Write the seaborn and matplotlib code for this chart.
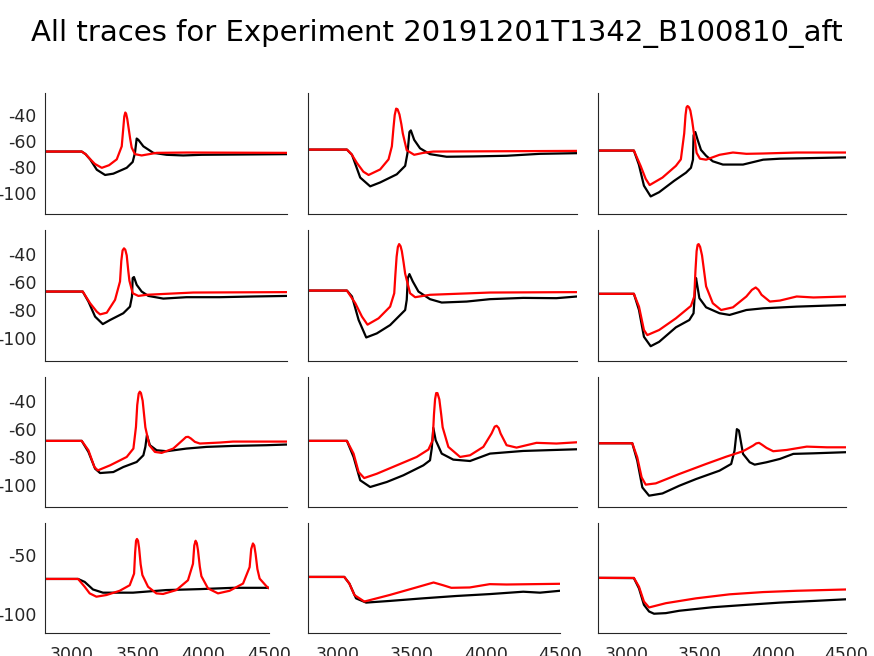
import matplotlib
matplotlib.use("Agg")
import matplotlib.pyplot as plt
import seaborn as sns
import pandas as pd

p1_black = [(2800, -68), (3058, -68), (3085, -70), (3117, -74), (3164, -82), (3222, -86), (3280, -85),
            (3374, -80.5), (3416, -76), (3432, -69), (3444, -58), (3456, -59), (3491, -64),
            (3561, -69), (3654, -70.5), (3771, -71), (3900, -70.5), (4500, -70)]
p1_red = [(2800, -68), (3058, -68), (3085, -70), (3110, -73), (3150, -77.5), (3199, -80.5),
          (3250, -78.5), (3304, -74), (3339, -64), (3350, -50), (3357, -41), (3364, -38),
          (3370, -39), (3378, -43), (3386, -49), (3398, -58), (3409, -65), (3432, -70),
          (3479, -71), (3584, -69), (3800, -68.75), (4500, -69)]

p2_black = [(2800, -66.5), (3046, -66.5), (3078, -70.5), (3130, -88), (3193, -94.75),
            (3256, -91.75), (3361, -85.5), (3414, -79), (3429, -69), (3441, -53), (3450, -51.75),
            (3471, -59), (3508, -65.5), (3571, -70), (3676, -72), (3845, -71.75), (4055, -71.25),
            (4265, -69.75), (4500, -69.25)]
p2_red = [(2800, -66.5), (3046, -66.5), (3075, -70), (3109, -76.75), (3150, -83.5), (3183, -86),
          (3256, -81.75), (3309, -74), (3330, -64), (3340, -50), (3348, -40), (3357, -35),
          (3366, -35.5), (3378, -39.5), (3390, -47), (3399, -54), (3424, -67), (3471, -70.5),
          (3529, -69), (3592, -68), (4500, -67.5)]

p3_black = [(2800, -67.25), (3046, -67.25), (3080, -78), (3115, -94.25), (3161, -102.5),
            (3219, -99.25), (3322, -90.5), (3403, -84.25), (3437, -80.5), (3451, -74.25),
            (3455, -55.5), (3467, -53), (3483, -59), (3506, -66.75), (3541, -71.25),
            (3587, -75.5), (3656, -78), (3794, -78), (3932, -74.25), (4047, -73.5),
            (4277, -73), (4500, -72.5)]
p3_red = [(2800, -67.25), (3046, -67.25), (3092, -79), (3127, -89), (3154, -93.75), (3242, -88),
          (3334, -79), (3368, -74), (3391, -54), (3400, -40), (3407, -34), (3414, -33),
          (3424, -34), (3433, -36.5), (3445, -44), (3455, -52), (3476, -69), (3499, -73.5),
          (3541, -74.25), (3633, -70.5), (3725, -68.75), (3817, -69.75), (3932, -69.5),
          (4162, -68.75), (4500, -68.75)]

p4_black = [(2800, -66.7), (3065, -66.7), (3105, -73.8), (3152, -84.5), (3206, -89.8),
            (3257, -86.9), (3350, -82.1), (3397, -77.4), (3411, -70.2), (3416, -57.1),
            (3425, -56.4), (3444, -61.9), (3479, -66.7), (3526, -69.8), (3631, -71.7),
            (3794, -70.7), (4028, -70.7), (4262, -70.2), (4500, -69.8)]
p4_red = [(2800, -66.7), (3065, -66.7), (3117, -75), (3164, -81), (3187, -82.9), (3234, -81.7),
          (3292, -72.6), (3327, -59.5), (3336, -45), (3345, -37.5), (3355, -36), (3364, -37),
          (3374, -41), (3385, -52), (3393, -59), (3416, -67.9), (3456, -69.8), (3514, -69),
          (3654, -68.3), (3841, -67.4), (4500, -67.1)]

p5_black = [(2800, -66), (3046, -66), (3078, -70.2), (3120, -86.9), (3168, -99.3), (3235, -96.4),
            (3319, -90.5), (3414, -79.8), (3424, -72.6), (3431, -57.1), (3441, -54.3),
            (3462, -59.5), (3498, -66.7), (3571, -72.1), (3645, -74.5), (3803, -73.8),
            (3950, -72.1), (4160, -71.2), (4370, -71.4), (4500, -70.2)]
p5_red = [(2800, -66), (3046, -66), (3099, -75), (3141, -84.5), (3176, -90.2), (3246, -85.7),
          (3319, -77.4), (3345, -67.9), (3352, -55), (3360, -42), (3368, -35), (3376, -33),
          (3385, -34.5), (3393, -38), (3404, -46), (3414, -54), (3445, -67.9), (3477, -70.7),
          (3571, -69), (3950, -67.4), (4500, -67.1)]

p6_black = [(2800, -68.3), (3046, -68.3), (3081, -79.8), (3115, -98.8), (3161, -105.5),
            (3219, -102.4), (3334, -92.1), (3426, -86.9), (3455, -82.1), (3467, -63.1),
            (3472, -57.1), (3495, -71.4), (3541, -77.9), (3633, -82.1), (3702, -83.3),
            (3817, -79.8), (3932, -78.6), (4162, -77.4), (4500, -76.2)]
p6_red = [(2800, -68.3), (3046, -68.3), (3081, -77.4), (3115, -94), (3138, -97.6), (3219, -94),
          (3334, -85.7), (3437, -76.9), (3460, -70.2), (3468, -52), (3476, -38), (3483, -33.5),
          (3490, -33), (3500, -35), (3513, -41), (3527, -52), (3541, -63), (3587, -75),
          (3644, -79.8), (3725, -77.9), (3817, -70.2), (3855, -65.5), (3881, -63.8),
          (3900, -65.5), (3921, -69), (3978, -73.8), (4047, -73.1), (4162, -70.2),
          (4277, -70.9), (4500, -70.2)]

p7_black = [(2800, -68.7), (3058, -68.7), (3105, -76.6), (3152, -88.6), (3187, -91.7),
            (3280, -91), (3350, -87.4), (3444, -83.8), (3491, -79), (3505, -73), (3516, -64.6),
            (3537, -71.8), (3584, -75.4), (3654, -76.1), (3794, -74.2), (3935, -73),
            (4121, -72.3), (4355, -71.8), (4500, -71.3)]
p7_red = [(2800, -68.7), (3058, -68.7), (3105, -75.4), (3147, -87.4), (3171, -89.8),
          (3257, -86.2), (3374, -80.2), (3421, -74.2), (3439, -58.7), (3448, -43), (3458, -35),
          (3466, -33.5), (3474, -34.5), (3486, -40), (3496, -50), (3505, -59), (3533, -71.8),
          (3572, -76.6), (3619, -77.3), (3701, -74.2), (3771, -67.8), (3790, -66), (3806, -65.8),
          (3825, -67), (3853, -69.4), (3888, -70.6), (4028, -69.9), (4121, -69.2), (4500, -69.2)]

p8_black = [(2800, -68.7), (3046, -68.7), (3088, -80.2), (3130, -96.9), (3193, -101.7),
            (3298, -98.1), (3403, -93.3), (3529, -86.2), (3571, -82.6), (3582, -74.2),
            (3592, -59.4), (3607, -68.2), (3645, -77.8), (3718, -82.1), (3824, -83.1),
            (3950, -77.8), (4160, -75.9), (4500, -74.7)]
p8_red = [(2800, -68.7), (3046, -68.7), (3088, -77.8), (3120, -91), (3155, -95.3), (3235, -92.2),
          (3361, -86.2), (3487, -80.2), (3561, -74.9), (3588, -68.2), (3596, -50), (3603, -39),
          (3610, -34.5), (3618, -34.5), (3630, -39), (3642, -50), (3651, -59), (3687, -73),
          (3761, -80.2), (3824, -79), (3908, -73), (3960, -63.4), (3980, -58.5), (3992, -57.9),
          (4005, -59.5), (4017, -63.4), (4055, -71.8), (4118, -73.5), (4244, -70.1),
          (4370, -70.6), (4500, -69.7)]

p9_black = [(2800, -70.4), (3035, -70.4), (3069, -82.8), (3104, -102), (3150, -107.9),
            (3242, -106.3), (3357, -100.8), (3472, -96), (3633, -90), (3713, -85.2),
            (3736, -75.6), (3752, -60.3), (3766, -61.3), (3794, -78), (3840, -84),
            (3874, -85.7), (3955, -84), (4047, -81.6), (4139, -78), (4277, -77.6), (4500, -76.8)]
p9_red = [(2800, -70.4), (3035, -70.4), (3069, -80.4), (3099, -94.8), (3127, -100),
          (3196, -99.1), (3357, -92.4), (3541, -85.2), (3679, -80), (3794, -76.1),
          (3863, -72.1), (3885, -70.5), (3904, -70.1), (3925, -71.5), (3955, -73.7),
          (4001, -76.1), (4093, -75.2), (4231, -72.8), (4369, -73.3), (4500, -73.3)]

p10_black = [(2800, -70.3), (3051, -70.3), (3101, -72.8), (3164, -79.2), (3240, -81.9),
             (3468, -81.9), (3721, -79.7), (3974, -78.9), (4227, -77.8), (4500, -77.8)]
p10_red = [(2800, -70.3), (3051, -70.3), (3101, -76.9), (3139, -82.5), (3190, -85.3),
           (3266, -83.9), (3367, -80.3), (3443, -75.6), (3476, -65.8), (3484, -48), (3491, -38),
           (3498, -36.5), (3506, -38), (3514, -44), (3526, -58), (3539, -67), (3582, -76.9),
           (3645, -82.5), (3696, -83), (3797, -79.7), (3885, -71.4), (3923, -57.5),
           (3933, -42), (3943, -38), (3952, -40), (3961, -46), (3975, -60), (3987, -68),
           (4037, -78.3), (4113, -82.5), (4201, -80.3), (4303, -74.2), (4353, -60.3),
           (4365, -45), (4378, -40.3), (4388, -42), (4398, -49), (4412, -62), (4429, -70),
           (4480, -76.4), (4500, -78.3)]

p11_black = [(2800, -68.6), (3045, -68.6), (3079, -74.2), (3124, -86.7), (3192, -90.3),
             (3350, -88.9), (3575, -86.7), (3801, -84.7), (4026, -83.1), (4252, -81.1),
             (4365, -81.9), (4500, -80.3)]
p11_red = [(2800, -68.6), (3045, -68.6), (3079, -74.2), (3113, -83.9), (3180, -89.4),
           (3350, -83.9), (3530, -77.5), (3647, -73.3), (3711, -75.6), (3767, -77.8),
           (3891, -77.5), (4026, -74.7), (4139, -75), (4500, -74.4)]

p12_black = [(2800, -69.4), (3046, -69.6), (3081, -78.3), (3115, -92.2), (3150, -97.8),
             (3184, -99.7), (3265, -99.2), (3357, -97.2), (3587, -94.2), (3817, -92.2),
             (4047, -90.3), (4277, -88.9), (4500, -87.5)]
p12_red = [(2800, -69.4), (3046, -69.4), (3081, -76.9), (3115, -89.4), (3150, -94.4),
           (3265, -90.8), (3472, -86.7), (3702, -83.3), (3932, -81.4), (4162, -80.3),
           (4500, -79.2)]

traces = [(p1_black, p1_red), (p2_black, p2_red), (p3_black, p3_red),
          (p4_black, p4_red), (p5_black, p5_red), (p6_black, p6_red),
          (p7_black, p7_red), (p8_black, p8_red), (p9_black, p9_red),
          (p10_black, p10_red), (p11_black, p11_red), (p12_black, p12_red)]

title = "All traces for Experiment 20191201T1342_B100810_aft"
x_ticks = [3000, 3500, 4000, 4500]

# axes boxes in pixels (left, right, top, bottom)
W, H = 874, 656
rows_px = [(93, 214), (230, 361), (377, 507), (523, 633)]
cols_px = [[(45, 287), (308, 577), (598, 846)]] * 3 + [[(45, 269), (308, 560), (598, 846)]]

sns.set_style("white")
plt.rcParams.update({
    "font.family": ["DejaVu Sans"],
    "axes.unicode_minus": False,
    "xtick.direction": "in",
    "ytick.direction": "in",
    "xtick.major.size": 3,
    "ytick.major.size": 3,
    "xtick.major.pad": 9,
    "ytick.major.pad": 6,
    "xtick.color": "#262626",
    "ytick.color": "#262626",
    "axes.edgecolor": "#262626",
    "axes.linewidth": 0.8,
})

fig = plt.figure(figsize=(W / 100, H / 100), dpi=100)

for i, (black, red) in enumerate(traces):
    r, c = divmod(i, 3)
    top, bottom = rows_px[r]
    left, right = cols_px[r][c]
    ax = fig.add_axes([left / W, 1 - bottom / H, (right - left) / W, (bottom - top) / H])

    for pts, color in [(black, "black"), (red, "red")]:
        df = pd.DataFrame(pts, columns=["t", "v"])
        sns.lineplot(data=df, x="t", y="v", color=color, linewidth=1.6,
                     sort=False, estimator=None, ax=ax)

    ax.set_xlim(2800, 4500)
    ax.set_ylim(-116, -23)
    ax.set_xticks(x_ticks)
    if r == 3:
        ax.set_yticks([-100, -50])
    else:
        ax.set_yticks([-100, -80, -60, -40])
    ax.set_xlabel("")
    ax.set_ylabel("")
    ax.tick_params(labelsize=12.5)
    if r < 3:
        ax.set_xticklabels([])
    if c > 0:
        ax.set_yticklabels([])
    sns.despine(ax=ax)

fig.suptitle(title, x=0.5, y=1 - 34 / H, va="center", fontsize=21, color="black")
fig.savefig("out.png", dpi=100)
